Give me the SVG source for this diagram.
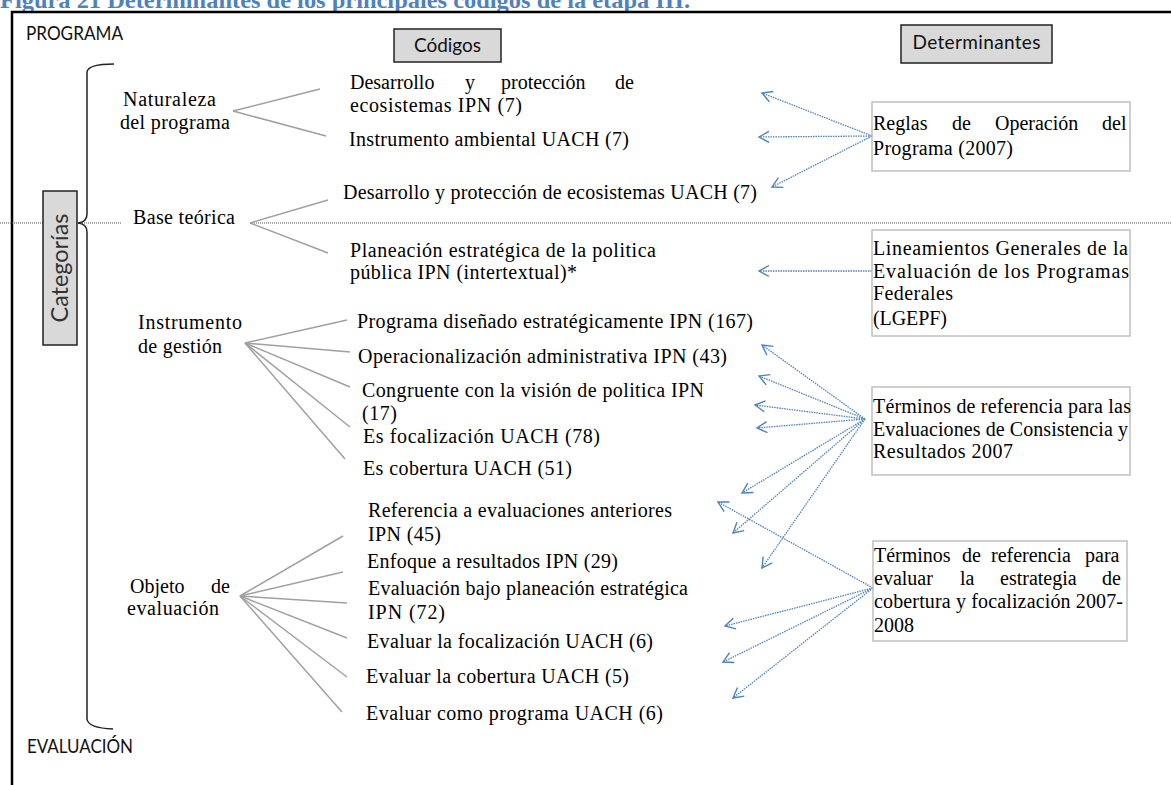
<svg xmlns="http://www.w3.org/2000/svg" width="1171" height="785" viewBox="0 0 1171 785">
<defs>
<style>
.t{font-family:"Liberation Serif","Times New Roman",serif;font-size:20px;fill:#000;}
.s{font-family:Lato,"Liberation Sans",sans-serif;font-size:19px;fill:#111;}
.title{font-family:"Liberation Serif","Times New Roman",serif;font-size:24px;font-weight:bold;fill:#4f81bd;}
.hdr{fill:#d9d9d9;stroke:#222;stroke-width:1.5;}
.det{fill:#fff;stroke:#c0c0c0;stroke-width:1.5;}
.tree{stroke:#a0a0a0;stroke-width:1.5;fill:none;}
.arr{stroke:#4f81bd;stroke-width:1.3;stroke-dasharray:1.5 1;fill:none;marker-end:url(#ah);}
.dot{stroke:#555;stroke-width:1.2;stroke-dasharray:1 1;fill:none;}
</style>
<marker id="ah" markerUnits="userSpaceOnUse" markerWidth="14" markerHeight="14" viewBox="0 0 14 14" refX="12" refY="7" orient="auto">
<path d="M2,1.5 L12,7 L2,12.5" fill="none" stroke="#4f81bd" stroke-width="1.4"/>
</marker>
</defs>

<text class="title" x="0" y="8" textLength="690" lengthAdjust="spacingAndGlyphs">Figura 21 Determinantes de los principales códigos de la etapa III.</text>

<g id="frame">
<path d="M12,785 L12,12 L1171,12" fill="none" stroke="#000" stroke-width="2.5"/>
</g>

<g id="connectors">
<line class="dot" x1="0" y1="223" x2="122" y2="223"/>
<line class="dot" x1="250" y1="223" x2="1171" y2="223"/>
<path d="M114,64 Q88,64 87,72 L87,214 Q87,222 78,223 Q87,224 87,232 L87,719 Q88,728 113,729" fill="none" stroke="#222" stroke-width="1.5"/>
<g class="tree">
<line x1="233" y1="111" x2="320" y2="89"/>
<line x1="233" y1="111" x2="326" y2="136"/>
<line x1="250" y1="223" x2="328" y2="200"/>
<line x1="250" y1="223" x2="328" y2="253"/>
<line x1="245" y1="343" x2="347" y2="320"/>
<line x1="245" y1="343" x2="350" y2="352"/>
<line x1="245" y1="343" x2="350" y2="387"/>
<line x1="245" y1="343" x2="350" y2="427"/>
<line x1="245" y1="343" x2="345" y2="459"/>
<line x1="240" y1="596" x2="343" y2="536"/>
<line x1="240" y1="596" x2="343" y2="572"/>
<line x1="240" y1="596" x2="347" y2="603"/>
<line x1="240" y1="596" x2="347" y2="638"/>
<line x1="240" y1="596" x2="347" y2="677"/>
<line x1="240" y1="596" x2="342" y2="712"/>
</g>
<line class="arr" x1="872" y1="136" x2="762" y2="93"/>
<line class="arr" x1="872" y1="136" x2="759" y2="137"/>
<line class="arr" x1="872" y1="136" x2="772" y2="187"/>
<line class="arr" x1="872" y1="271" x2="759" y2="271"/>
<line class="arr" x1="865" y1="419" x2="762" y2="345"/>
<line class="arr" x1="865" y1="419" x2="759" y2="376"/>
<line class="arr" x1="865" y1="419" x2="755" y2="405"/>
<line class="arr" x1="865" y1="419" x2="757" y2="428"/>
<line class="arr" x1="865" y1="419" x2="742" y2="493"/>
<line class="arr" x1="865" y1="419" x2="733" y2="533"/>
<line class="arr" x1="865" y1="419" x2="762" y2="568"/>
<line class="arr" x1="873" y1="588" x2="718" y2="502"/>
<line class="arr" x1="873" y1="588" x2="725" y2="626"/>
<line class="arr" x1="873" y1="588" x2="723" y2="662"/>
<line class="arr" x1="873" y1="588" x2="733" y2="698"/>
</g>

<g id="programa"><text class="s" x="26" y="40" textLength="97" lengthAdjust="spacingAndGlyphs">PROGRAMA</text></g>
<g id="evaluacion"><text class="s" x="27" y="753" textLength="106" lengthAdjust="spacingAndGlyphs">EVALUACIÓN</text></g>

<g id="codigos-hdr">
<rect class="hdr" x="394" y="29" width="107" height="33"/>
<text class="s" x="447.5" y="52" text-anchor="middle">Códigos</text>
</g>
<g id="determinantes-hdr">
<rect class="hdr" x="901" y="25" width="151" height="38"/>
<text class="s" x="976.5" y="49" text-anchor="middle" textLength="128" lengthAdjust="spacing">Determinantes</text>
</g>

<g id="categorias">
<rect class="hdr" x="43" y="191" width="34" height="154"/>
<text class="s" transform="translate(68,268) rotate(-90)" x="0" y="0" text-anchor="middle" style="font-size:24px;fill:#333" textLength="109" lengthAdjust="spacingAndGlyphs">Categorías</text>
</g>

<g id="cat-naturaleza">
<text class="t" x="123" y="106" textLength="93" lengthAdjust="spacing">Naturaleza</text>
<text class="t" x="120" y="129" textLength="110" lengthAdjust="spacing">del programa</text>
</g>
<g id="cat-base"><text class="t" x="133" y="224" textLength="102" lengthAdjust="spacing">Base teórica</text></g>
<g id="cat-instrumento">
<text class="t" x="138" y="329" textLength="104" lengthAdjust="spacing">Instrumento</text>
<text class="t" x="138" y="353" textLength="84" lengthAdjust="spacing">de gestión</text>
</g>
<g id="cat-objeto">
<text class="t" y="593"><tspan x="130">Objeto</tspan><tspan x="211">de</tspan></text>
<text class="t" x="127" y="615" textLength="92" lengthAdjust="spacing">evaluación</text>
</g>

<g id="c1">
<text class="t" y="89"><tspan x="350">Desarrollo</tspan><tspan x="465">y</tspan><tspan x="501">protección</tspan><tspan x="615">de</tspan></text>
<text class="t" x="350" y="112" textLength="172" lengthAdjust="spacing">ecosistemas IPN (7)</text>
</g>
<g id="c2"><text class="t" x="349" y="146" textLength="280" lengthAdjust="spacing">Instrumento ambiental UACH (7)</text></g>
<g id="c3"><text class="t" x="343" y="199" textLength="414" lengthAdjust="spacing">Desarrollo y protección de ecosistemas UACH (7)</text></g>
<g id="c4">
<text class="t" x="350" y="257" textLength="306" lengthAdjust="spacing">Planeación estratégica de la politica</text>
<text class="t" x="350" y="279" textLength="227" lengthAdjust="spacing">pública IPN (intertextual)*</text>
</g>
<g id="c5"><text class="t" x="357" y="328" textLength="396" lengthAdjust="spacing">Programa diseñado estratégicamente IPN (167)</text></g>
<g id="c6"><text class="t" x="358" y="363" textLength="369" lengthAdjust="spacing">Operacionalización administrativa IPN (43)</text></g>
<g id="c7">
<text class="t" x="362" y="397" textLength="342" lengthAdjust="spacing">Congruente con la visión de politica IPN</text>
<text class="t" x="362" y="420" textLength="35" lengthAdjust="spacing">(17)</text>
</g>
<g id="c8"><text class="t" x="363" y="443" textLength="237" lengthAdjust="spacing">Es focalización UACH (78)</text></g>
<g id="c9"><text class="t" x="363" y="475" textLength="209" lengthAdjust="spacing">Es cobertura UACH (51)</text></g>
<g id="c10">
<text class="t" x="368" y="517" textLength="304" lengthAdjust="spacing">Referencia a evaluaciones anteriores</text>
<text class="t" x="368" y="541" textLength="73" lengthAdjust="spacing">IPN (45)</text>
</g>
<g id="c11"><text class="t" x="367" y="568" textLength="251" lengthAdjust="spacing">Enfoque a resultados IPN (29)</text></g>
<g id="c12">
<text class="t" x="368" y="595" textLength="320" lengthAdjust="spacing">Evaluación bajo planeación estratégica</text>
<text class="t" x="368" y="619" textLength="77" lengthAdjust="spacing">IPN (72)</text>
</g>
<g id="c13"><text class="t" x="367" y="648" textLength="286" lengthAdjust="spacing">Evaluar la focalización UACH (6)</text></g>
<g id="c14"><text class="t" x="366" y="683" textLength="263" lengthAdjust="spacing">Evaluar la cobertura UACH (5)</text></g>
<g id="c15"><text class="t" x="366" y="720" textLength="297" lengthAdjust="spacing">Evaluar como programa UACH (6)</text></g>

<g id="d-reglas">
<rect class="det" x="872" y="102" width="258" height="69"/>
<text class="t" y="130"><tspan x="873">Reglas</tspan><tspan x="952">de</tspan><tspan x="995">Operación</tspan><tspan x="1102">del</tspan></text>
<text class="t" x="873" y="155" textLength="140" lengthAdjust="spacing">Programa (2007)</text>
</g>
<g id="d-lineamientos">
<rect class="det" x="872" y="230" width="258" height="106"/>
<text class="t" x="873" y="255" textLength="255" lengthAdjust="spacing">Lineamientos Generales de la</text>
<text class="t" x="873" y="278" textLength="256" lengthAdjust="spacing">Evaluación de los Programas</text>
<text class="t" x="873" y="300" textLength="80" lengthAdjust="spacing">Federales</text>
<text class="t" x="873" y="325" textLength="74" lengthAdjust="spacing">(LGEPF)</text>
</g>
<g id="d-terminos1">
<rect class="det" x="872" y="387" width="258" height="88"/>
<text class="t" x="873" y="413" textLength="258" lengthAdjust="spacing">Términos de referencia para las</text>
<text class="t" x="873" y="436" textLength="255" lengthAdjust="spacing">Evaluaciones de Consistencia y</text>
<text class="t" x="873" y="458" textLength="140" lengthAdjust="spacing">Resultados 2007</text>
</g>
<g id="d-terminos2">
<rect class="det" x="873" y="541" width="254" height="100"/>
<text class="t" y="562"><tspan x="874">Términos</tspan><tspan x="962">de</tspan><tspan x="991">referencia</tspan><tspan x="1085">para</tspan></text>
<text class="t" y="585"><tspan x="874">evaluar</tspan><tspan x="960">la</tspan><tspan x="1000">estrategia</tspan><tspan x="1102">de</tspan></text>
<text class="t" x="874" y="608" textLength="249" lengthAdjust="spacing">cobertura y focalización 2007-</text>
<text class="t" x="874" y="632">2008</text>
</g>
</svg>
